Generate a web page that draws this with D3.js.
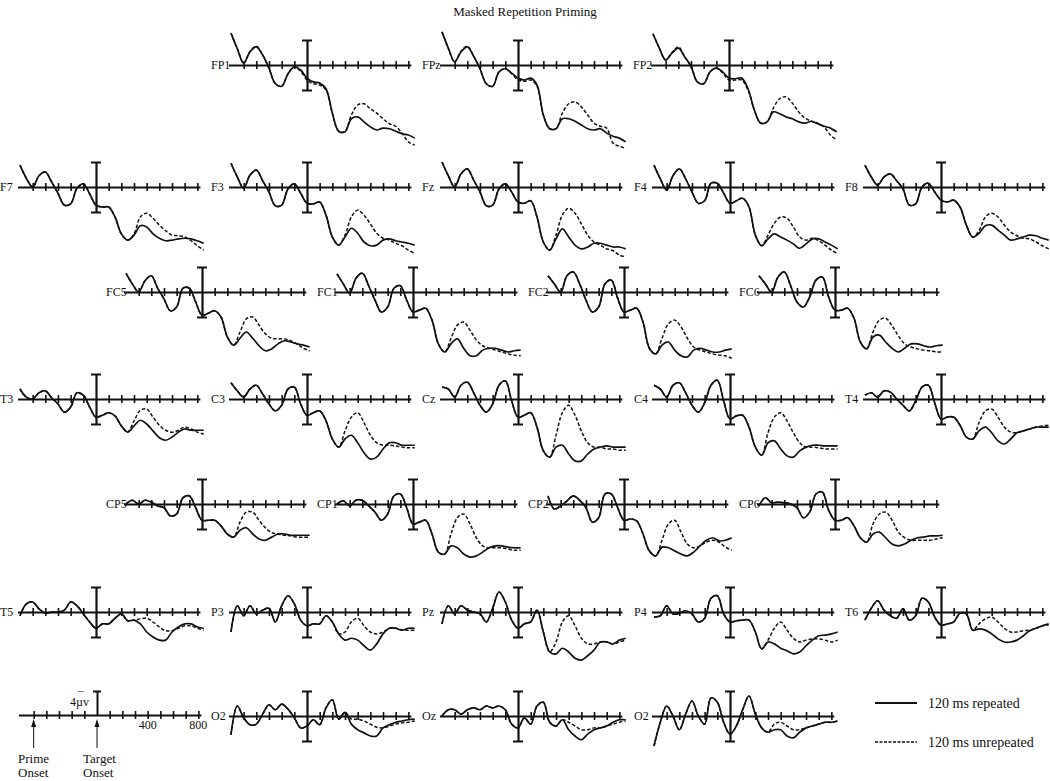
<!DOCTYPE html>
<html><head><meta charset="utf-8">
<script src="https://cdn.jsdelivr.net/npm/d3@7"></script>
<style>
body{margin:0;background:#fff;}
svg{display:block;}
text{font-family:"Liberation Serif","Times New Roman",serif;fill:#111;}
</style>
</head><body>
<svg id="chart" width="1050" height="781"></svg>
<script>
// ---------------- data ----------------
const chartTitle = "Masked Repetition Priming";
const times = [-600,-550,-500,-450,-400,-350,-300,-250,-200,-150,-100,-50,0,50,100,150,200,250,300,350,400,450,500,550,600,650,700,750,800,850];
const tickTimes = [-500,-400,-300,-200,-100,100,200,300,400,500,600,700,800];
const scaleTickLabels = [400, 800];
const calibUV = 4;
const seriesNames = ["120 ms repeated", "120 ms unrepeated"];
const electrodeLabels = ["FP1","FPz","FP2","F7","F3","Fz","F4","F8","FC5","FC1","FC2","FC6","T3","C3","Cz","C4","T4","CP5","CP1","CP2","CP6","T5","P3","Pz","P4","T6","O2","Oz","O2"];

// amplitudes in microvolts (negative plotted up)
const FP1_rep = [-5.1,-2.6,-0.3,-2.1,-2.9,-1.6,0.5,3.0,3.4,1.4,0.3,0.8,2.1,2.7,2.9,3.8,7.7,10.6,10.7,8.6,8.3,9.1,9.9,10.4,10.1,10.2,10.6,11.0,11.2,11.7];
const FP1_unrep = [-5.1,-2.6,-0.3,-2.2,-3.0,-1.6,0.5,3.0,3.4,1.4,0.3,1.0,2.4,3.0,3.2,4.0,7.7,10.6,10.6,8.0,6.4,6.2,7.0,7.7,8.6,9.4,9.8,10.9,12.3,12.8];
const FPz_rep = [-5.3,-2.7,-0.5,-2.1,-2.9,-1.4,0.6,3.0,3.4,1.1,0.6,1.3,2.1,2.4,2.1,3.2,8.0,10.2,10.2,8.6,8.6,9.0,9.6,10.2,10.4,10.2,10.9,11.4,11.7,12.3];
const FPz_unrep = [-5.3,-2.7,-0.5,-2.2,-3.0,-1.4,0.6,3.0,3.4,1.1,0.6,1.4,2.4,2.6,2.4,3.4,8.0,10.2,10.2,7.7,6.2,5.9,6.7,8.0,9.3,9.8,10.1,12.5,13.0,13.3];
const FP2_rep = [-5.0,-2.7,-0.8,-1.9,-2.7,-1.3,0.2,2.7,3.0,1.1,0.5,1.1,2.1,2.2,2.1,3.8,7.2,9.3,9.1,7.5,7.8,8.3,8.6,9.1,9.3,9.0,9.4,9.8,10.1,10.7];
const FP2_unrep = [-5.0,-2.7,-0.8,-2.0,-2.9,-1.3,0.2,2.7,3.0,1.1,0.5,1.3,2.4,2.4,2.4,4.0,7.2,9.3,9.1,6.9,5.4,5.1,6.1,7.5,8.5,9.0,9.3,9.9,11.2,12.0];
const F7_rep = [-3.5,-1.4,0,-1.8,-2.4,-0.8,1.0,2.9,2.7,0.2,-0.5,1.1,2.9,3.2,3.2,4.8,7.5,8.5,7.7,6.2,6.4,7.5,8.2,8.6,8.5,8.3,8.2,8.3,8.6,9.0];
const F7_unrep = [-3.5,-1.4,0,-1.8,-2.4,-0.8,1.0,2.9,2.7,0.2,-0.5,1.1,2.9,3.2,3.2,4.8,7.5,8.5,7.5,4.8,4.2,5.0,6.1,7.0,7.7,7.8,8.0,8.6,9.4,10.1];
const F3_rep = [-3.8,-1.6,0.2,-1.9,-2.7,-1.0,0.8,3.0,2.9,0.3,-0.5,1.0,2.6,2.7,2.4,4.5,8.0,9.3,8.0,6.6,7.4,8.8,9.4,9.3,8.5,8.3,8.6,8.8,9.0,9.3];
const F3_unrep = [-3.8,-1.6,0.2,-1.9,-2.7,-1.0,0.8,3.0,2.9,0.3,-0.5,1.0,2.6,2.7,2.4,4.5,8.0,9.3,7.7,4.8,3.7,4.5,5.9,7.4,8.2,8.5,9.0,9.4,10.1,10.6];
const Fz_rep = [-4.0,-1.8,0,-2.1,-2.9,-1.1,0.8,3.0,2.9,0.3,-0.5,0.8,2.4,2.6,2.2,4.8,8.8,10.1,8.3,6.7,8.0,9.3,9.9,9.6,9.0,9.0,9.3,9.6,9.6,9.9];
const Fz_unrep = [-4.0,-1.8,0,-2.1,-2.9,-1.1,0.8,3.0,2.9,0.3,-0.5,0.8,2.4,2.6,2.2,4.8,8.8,10.1,7.7,4.5,3.4,4.2,5.9,7.7,8.8,9.3,9.9,10.2,10.9,11.2];
const F4_rep = [-3.5,-1.3,0.5,-1.8,-2.9,-1.3,0.8,2.6,2.2,-0.6,-0.6,1.0,2.6,2.2,1.8,3.2,7.7,9.4,8.3,7.5,8.0,8.5,9.1,9.8,9.1,8.3,8.3,8.8,9.3,9.9];
const F4_unrep = [-3.5,-1.3,0.5,-1.8,-2.9,-1.3,0.8,2.6,2.2,-0.6,-0.6,1.0,2.6,2.2,1.8,3.2,7.7,9.4,7.7,5.8,4.8,5.0,6.4,8.0,8.5,8.2,8.6,9.3,10.1,10.7];
const F8_rep = [-3.5,-1.6,-0.3,-1.6,-2.1,-1.0,0.3,2.9,2.7,0,-0.6,0.8,2.1,2.4,2.1,3.2,6.1,8.0,7.4,6.2,6.1,6.9,7.7,8.5,8.3,8.0,7.7,7.8,8.2,8.5];
const F8_unrep = [-3.5,-1.6,-0.3,-1.6,-2.1,-1.0,0.3,2.9,2.7,0,-0.6,0.8,2.1,2.4,2.1,3.2,6.1,8.0,7.0,4.8,4.2,4.8,6.1,7.2,7.8,8.2,8.3,8.8,9.4,9.9];
const FC5_rep = [-3.0,-1.3,0,-1.8,-2.6,-0.6,1.1,3.0,2.4,-0.6,-0.6,1.6,3.7,3.4,3.0,4.0,7.2,8.5,7.4,6.4,7.4,8.6,9.4,9.1,8.3,7.8,8.0,8.3,8.5,8.8];
const FC5_unrep = [-3.0,-1.3,0,-1.8,-2.6,-0.6,1.1,3.0,2.4,-0.6,-0.6,1.6,3.7,3.4,3.0,4.0,7.2,8.5,6.4,4.3,4.0,5.3,6.7,7.4,7.5,7.5,7.8,8.3,9.0,9.4];
const FC1_rep = [-2.9,-1.3,0.2,-2.2,-3.0,-1.0,1.3,3.2,2.4,-0.6,-1.0,1.3,3.2,2.9,2.6,4.5,8.3,9.6,8.3,7.5,9.0,10.2,10.2,9.3,9.0,9.0,9.3,9.6,9.4,9.3];
const FC1_unrep = [-2.9,-1.3,0.2,-2.2,-3.0,-1.0,1.3,3.2,2.4,-0.6,-1.0,1.3,3.2,2.9,2.6,4.5,8.3,9.6,7.4,5.3,4.8,6.1,7.7,8.6,9.0,9.3,9.6,9.9,10.1,10.2];
const FC2_rep = [-2.6,-1.3,0,-2.6,-3.2,-1.3,1.3,3.2,2.4,-1.3,-1.9,1.0,3.2,2.9,2.6,4.8,9.0,9.9,8.5,8.0,9.3,10.2,10.4,9.3,9.0,9.3,9.6,9.6,9.3,9.1];
const FC2_unrep = [-2.6,-1.3,0,-2.6,-3.2,-1.3,1.3,3.2,2.4,-1.3,-1.9,1.0,3.2,2.9,2.6,4.8,9.0,9.9,7.4,5.1,4.5,5.6,7.4,8.8,9.3,9.6,9.9,10.1,10.2,10.6];
const FC6_rep = [-2.6,-1.3,0,-2.4,-3.2,-1.0,1.6,2.4,0.8,-1.9,-2.4,0.8,2.9,2.9,2.6,4.2,8.0,9.1,7.2,6.9,8.0,9.0,9.6,9.0,8.3,8.3,8.6,8.8,8.6,8.5];
const FC6_unrep = [-2.6,-1.3,0,-2.4,-3.2,-1.0,1.6,2.4,0.8,-1.9,-2.4,0.8,2.9,2.9,2.6,4.2,8.0,9.1,6.4,4.5,4.2,5.4,7.0,8.3,8.8,9.1,9.3,9.4,9.6,9.6];
const T3_rep = [-1.6,-0.3,0,-1.0,-1.3,-0.2,0.8,2.1,1.3,-1.0,-0.6,1.3,2.9,2.6,2.2,2.7,4.3,5.3,4.3,3.4,4.0,5.1,6.2,6.6,6.1,5.3,4.8,5.0,5.0,5.0];
const T3_unrep = [-1.6,-0.3,0,-1.0,-1.3,-0.2,0.8,2.1,1.3,-1.0,-0.6,1.3,2.9,2.6,2.2,2.7,4.3,5.3,3.5,1.8,1.6,2.9,4.2,5.0,5.3,5.0,4.5,4.8,5.3,5.6];
const C3_rep = [-2.6,-1.3,-0.3,-1.6,-2.2,-0.8,0.8,1.9,1.0,-1.6,-1.9,0.8,2.6,2.2,1.9,3.5,6.4,7.7,6.4,5.8,7.0,8.6,9.6,9.3,8.0,7.0,7.0,7.4,7.4,7.4];
const C3_unrep = [-2.6,-1.3,-0.3,-1.6,-2.2,-0.8,0.8,1.9,1.0,-1.6,-1.9,0.8,2.6,2.2,1.9,3.5,6.4,7.7,5.1,2.9,2.2,3.8,5.8,7.0,7.4,7.4,7.5,7.7,7.8,7.8];
const Cz_rep = [-1.9,-1.6,-0.3,-2.2,-2.7,-1.0,1.0,2.1,0.8,-2.2,-2.9,0.3,2.9,2.6,2.2,4.5,8.3,9.3,7.7,7.4,8.8,9.9,9.9,8.8,8.0,7.7,7.5,7.7,7.7,7.7];
const Cz_unrep = [-1.9,-1.6,-0.3,-2.2,-2.7,-1.0,1.0,2.1,0.8,-2.2,-2.9,0.3,2.9,2.6,2.2,4.5,8.3,9.3,5.8,2.2,1.0,2.6,5.1,7.0,7.7,7.7,8.0,8.0,8.2,8.2];
const C4_rep = [-2.2,-1.6,-0.3,-2.2,-2.6,-1.0,1.0,2.1,0.6,-2.2,-3.0,0.3,3.2,2.7,2.6,4.5,7.7,9.0,7.0,6.7,8.0,9.1,9.3,8.3,7.7,7.4,7.4,7.5,7.5,7.5];
const C4_unrep = [-2.2,-1.6,-0.3,-2.2,-2.6,-1.0,1.0,2.1,0.6,-2.2,-3.0,0.3,3.2,2.7,2.6,4.5,7.7,9.0,5.4,2.9,2.2,3.5,5.4,7.0,7.7,7.7,7.8,8.0,8.0,8.0];
const T4_rep = [-0.6,-1.0,-0.3,-1.3,-1.1,0,1.0,1.9,0.3,-1.9,-2.2,0.6,3.2,2.9,2.9,4.2,6.1,6.4,5.1,4.5,5.4,6.7,7.2,6.4,5.4,5.1,4.8,4.5,4.5,4.5];
const T4_unrep = [-0.6,-1.0,-0.3,-1.3,-1.1,0,1.0,1.9,0.3,-1.9,-2.2,0.6,3.2,2.9,2.9,4.2,6.1,6.4,3.8,1.9,1.6,2.9,4.5,5.3,5.4,5.1,4.8,4.5,4.3,4.2];
const CP5_rep = [0,-0.6,0,-0.6,-0.3,0.3,0.6,1.9,1.6,-1.0,-1.3,0.6,2.6,2.6,2.6,3.5,4.8,5.3,4.2,3.8,4.8,5.6,5.8,5.3,4.8,4.8,5.0,5.0,5.0,5.0];
const CP5_unrep = [0,-0.6,0,-0.6,-0.3,0.3,0.6,1.9,1.6,-1.0,-1.3,0.6,2.6,2.6,2.6,3.5,4.8,5.3,2.9,1.3,1.3,2.6,3.8,4.6,4.8,5.0,5.1,5.3,5.3,5.3];
const CP1_rep = [0,-0.5,0.3,-0.6,-0.6,0.3,1.3,2.6,1.6,-1.3,-1.6,0.6,3.2,2.9,2.6,4.8,7.7,8.0,6.7,7.0,8.0,8.5,8.3,7.7,7.0,6.7,6.7,6.9,7.0,7.0];
const CP1_unrep = [0,-0.5,0.3,-0.6,-0.6,0.3,1.3,2.6,1.6,-1.3,-1.6,0.6,3.2,2.9,2.6,4.8,7.7,8.0,4.8,2.2,1.6,3.2,5.4,6.7,7.0,7.0,7.0,7.2,7.4,7.4];
const CP2_rep = [-1.3,0.8,0.3,-0.5,-1.3,-0.6,0.6,2.9,2.2,-1.6,-1.6,0.6,2.6,2.4,2.7,4.8,7.5,8.3,6.9,7.0,7.5,8.0,8.3,7.7,6.7,5.8,5.4,5.9,5.8,5.4];
const CP2_unrep = [-1.3,0.8,0.3,-0.5,-1.3,-0.6,0.6,2.9,2.2,-1.6,-1.6,0.6,2.6,2.4,2.7,4.8,7.5,8.3,5.8,3.2,2.6,4.5,6.4,7.0,6.7,6.1,5.8,6.1,6.9,7.4];
const CP6_rep = [0.3,-1.0,-0.2,-0.3,-0.2,0,0.6,2.2,1.3,-1.6,-1.9,1.0,2.6,2.6,2.2,3.5,5.4,6.1,4.8,4.5,5.4,6.4,6.7,6.4,5.8,5.4,5.3,5.1,5.1,5.0];
const CP6_unrep = [0.3,-1.0,-0.2,-0.3,-0.2,0,0.6,2.2,1.3,-1.6,-1.9,1.0,2.6,2.6,2.2,3.5,5.4,6.1,3.2,1.6,1.3,2.6,4.5,5.4,5.8,5.8,5.8,5.8,5.6,5.4];
const T5_rep = [0.6,-1.3,-1.6,-0.5,0.2,0,0,-0.3,-1.6,-1.0,0.3,1.6,2.6,1.9,1.9,1.0,0.3,1.4,1.3,1.9,3.2,4.0,4.5,4.5,3.2,2.4,1.9,1.9,2.4,2.6];
const T5_unrep = [0.6,-1.3,-1.6,-0.5,0.2,0,0,-0.3,-1.6,-1.0,0.3,1.6,2.6,1.9,1.9,1.0,0.3,1.4,1.3,1.1,1.0,1.6,2.4,3.0,3.0,2.6,2.2,2.2,2.6,2.9];
const P3_rep = [3.2,-1.0,0.6,-1.0,0.3,-0.3,-0.6,1.6,-1.0,-2.6,-1.3,1.3,2.2,1.9,1.9,0.6,1.6,3.5,4.5,4.2,4.5,5.4,6.1,5.1,3.5,2.6,2.6,2.9,2.6,2.6];
const P3_unrep = [3.2,-1.0,0.6,-1.0,0.3,-0.3,-0.6,1.6,-1.0,-2.6,-1.3,1.3,2.2,1.9,1.9,0.6,1.6,3.5,3.2,1.6,1.0,2.2,3.2,3.5,3.2,2.6,2.6,2.9,2.9,2.9];
const Pz_rep = [1.9,-1.0,0.3,-1.0,-0.3,0,0.3,1.6,-0.6,-3.2,-1.6,1.3,2.6,1.9,1.6,-0.3,3.2,6.4,6.7,5.8,6.4,7.4,7.7,7.0,6.1,4.8,4.8,5.1,4.5,4.2];
const Pz_unrep = [1.9,-1.0,0.3,-1.0,-0.3,0,0.3,1.6,-0.6,-3.2,-1.6,1.3,2.6,1.9,1.6,-0.3,3.2,6.4,4.8,1.6,0.6,2.2,4.2,5.1,5.1,4.8,4.8,5.1,4.8,4.5];
const P4_rep = [0.8,0.6,-1.0,0.3,0.2,-0.2,0.3,1.6,1.0,-2.2,-2.6,0.3,1.6,1.4,1.3,1.3,3.2,5.9,4.8,5.1,5.8,6.2,6.7,6.4,5.4,4.5,3.8,3.7,3.5,3.2];
const P4_unrep = [0.8,0.6,-1.0,0.3,0.2,-0.2,0.3,1.6,1.0,-2.2,-2.6,0.3,1.6,1.4,1.3,1.3,3.2,5.9,4.5,2.6,1.6,2.9,4.2,4.8,4.5,4.3,4.3,4.5,4.8,4.5];
const T6_rep = [1.3,-0.6,-1.8,-0.3,0.6,1.0,-0.5,1.3,0.6,-2.2,-1.6,0.8,2.1,1.9,1.6,0.2,0.3,2.9,2.7,2.9,3.5,4.3,4.8,4.8,4.5,3.8,3.0,2.6,2.2,1.9];
const T6_unrep = [1.3,-0.6,-1.8,-0.3,0.6,1.0,-0.5,1.3,0.6,-2.2,-1.6,0.8,2.1,1.9,1.6,0.2,0.3,2.9,1.9,1.1,0.8,1.6,2.6,3.2,3.2,3.0,2.9,2.6,2.2,2.1];
const O2a_rep = [3.0,-1.6,0.3,1.4,1.3,-0.3,-1.8,-1.0,-1.9,-1.1,0.3,1.9,1.6,0.6,1.4,-1.3,-2.6,0.5,-0.6,1.3,2.2,2.7,3.2,3.2,1.9,1.4,1.0,0.8,0.6,0.5];
const O2a_unrep = [3.0,-1.6,0.3,1.4,1.3,-0.3,-1.8,-1.0,-1.9,-1.1,0.3,1.9,1.6,0.6,1.4,-1.3,-2.6,0.5,-0.6,0.5,0.5,0.8,1.3,1.8,1.9,1.6,1.3,1.1,1.0,0.8];
const Oz_rep = [0,-1.0,-1.0,-0.3,-1.0,-1.3,-1.0,-1.6,-1.3,-1.6,-1.0,1.3,1.9,0.3,1.3,-1.6,-2.2,1.0,1.6,0.6,2.2,3.2,3.8,2.9,2.2,1.9,1.6,1.0,0.6,0.6];
const Oz_unrep = [0,-1.0,-1.0,-0.3,-1.0,-1.3,-1.0,-1.6,-1.3,-1.6,-1.0,1.3,1.9,0.3,1.3,-1.6,-2.2,1.0,1.6,0.6,1.0,1.6,2.2,2.2,1.9,1.9,1.6,1.3,1.0,0.8];
const O2b_rep = [4.8,1.0,-1.6,0,2.2,-0.3,-2.4,0,1.3,-2.9,-2.2,1.0,2.9,1.6,-1.0,-3.2,-0.3,1.9,2.6,2.2,2.2,3.2,3.5,2.6,1.9,1.6,1.3,1.0,1.0,0.8];
const O2b_unrep = [4.8,1.0,-1.6,0,2.2,-0.3,-2.4,0,1.3,-2.9,-2.2,1.0,2.9,1.6,-1.0,-3.2,-0.3,1.9,2.6,1.3,1.0,1.6,2.2,2.2,1.9,1.6,1.3,1.0,1.0,0.8];

const repeated = [FP1_rep,FPz_rep,FP2_rep,F7_rep,F3_rep,Fz_rep,F4_rep,F8_rep,FC5_rep,FC1_rep,FC2_rep,FC6_rep,T3_rep,C3_rep,Cz_rep,C4_rep,T4_rep,CP5_rep,CP1_rep,CP2_rep,CP6_rep,T5_rep,P3_rep,Pz_rep,P4_rep,T6_rep,O2a_rep,Oz_rep,O2b_rep];
const unrepeated = [FP1_unrep,FPz_unrep,FP2_unrep,F7_unrep,F3_unrep,Fz_unrep,F4_unrep,F8_unrep,FC5_unrep,FC1_unrep,FC2_unrep,FC6_unrep,T3_unrep,C3_unrep,Cz_unrep,C4_unrep,T4_unrep,CP5_unrep,CP1_unrep,CP2_unrep,CP6_unrep,T5_unrep,P3_unrep,Pz_unrep,P4_unrep,T6_unrep,O2a_unrep,Oz_unrep,O2b_unrep];

// ---------------- layout (panel origin = target onset on baseline) ----------------
const colFull = [96, 307, 518, 730, 941];
const colHalf = [202, 413, 624, 835];
const rowY = [65, 187, 292, 399, 504, 612, 716];
const panelPos = [
  [colFull[1],rowY[0]],[colFull[2],rowY[0]],[729,rowY[0]],
  [colFull[0],rowY[1]],[colFull[1],rowY[1]],[colFull[2],rowY[1]],[colFull[3],rowY[1]],[colFull[4],rowY[1]],
  [colHalf[0],rowY[2]],[colHalf[1],rowY[2]],[colHalf[2],rowY[2]],[colHalf[3],rowY[2]],
  [colFull[0],rowY[3]],[colFull[1],rowY[3]],[colFull[2],rowY[3]],[colFull[3],rowY[3]],[colFull[4],rowY[3]],
  [colHalf[0],rowY[4]],[colHalf[1],rowY[4]],[colHalf[2],rowY[4]],[colHalf[3],rowY[4]],
  [colFull[0],rowY[5]],[colFull[1],rowY[5]],[colFull[2],rowY[5]],[colFull[3],rowY[5]],[colFull[4],rowY[5]],
  [colFull[1],rowY[6]],[colFull[2],rowY[6]],[colFull[3],rowY[6]]
];
const pxPerMs = 0.1267;
const halfBar = 25;
const axisDomain = [-620, 820];

const svg = d3.select("#chart");

svg.append("text").attr("x", 525).attr("y", 16).attr("text-anchor","middle")
  .attr("font-size", 13).text(chartTitle);

function makeX(cx){
  return d3.scaleLinear().domain(axisDomain).range([cx + axisDomain[0]*pxPerMs, cx + axisDomain[1]*pxPerMs]);
}

function drawBaseline(g, x, cy){
  const ax = d3.axisBottom(x).tickValues(tickTimes).tickFormat("").tickSizeOuter(0).tickSizeInner(4);
  const ag = g.append("g").attr("transform", `translate(0,${cy})`).call(ax);
  ag.select(".domain").attr("stroke","#111").attr("stroke-width",2);
  ag.selectAll(".tick line").attr("y1",-4).attr("y2",4).attr("stroke","#111").attr("stroke-width",1.6);
  return ag;
}

electrodeLabels.forEach((lab, i) => {
  const [cx, cy] = panelPos[i];
  const x = makeX(cx);
  const y = d3.scaleLinear().domain([-calibUV, calibUV]).range([cy - halfBar, cy + halfBar]);
  const g = svg.append("g");

  drawBaseline(g, x, cy);

  // calibration bar at target onset
  const vb = d3.axisLeft(y).tickValues([-calibUV, calibUV]).tickFormat("").tickSizeOuter(0).tickSizeInner(5);
  const vg = g.append("g").attr("transform", `translate(${x(0)},0)`).call(vb);
  vg.select(".domain").attr("stroke","#111").attr("stroke-width",2.2);
  vg.selectAll(".tick line").attr("x1",-5).attr("x2",5).attr("stroke","#111").attr("stroke-width",2);

  g.append("text").attr("x", cx - 96).attr("y", cy + 4).attr("font-size", 12).text(lab);

  const line = d3.line().x((d, k) => x(times[k])).y(d => y(d)).curve(d3.curveCatmullRom.alpha(0.5));
  g.append("path").datum(unrepeated[i]).attr("d", line).attr("fill","none")
    .attr("stroke","#111").attr("stroke-width",1.5).attr("stroke-dasharray","3.5,2");
  g.append("path").datum(repeated[i]).attr("d", line).attr("fill","none")
    .attr("stroke","#111").attr("stroke-width",1.7);
});

// ---------------- scale / time reference panel ----------------
(function(){
  const cx = 97, cy = 715;
  const x = makeX(cx);
  const yL = d3.scaleLinear().domain([-calibUV, 0]).range([cy - 24, cy]);
  const g = svg.append("g");
  drawBaseline(g, x, cy);
  const vb = d3.axisLeft(yL).tickValues([-calibUV]).tickFormat("").tickSizeOuter(0).tickSizeInner(4);
  const vg = g.append("g").attr("transform", `translate(${x(0)},0)`).call(vb);
  vg.select(".domain").attr("stroke","#111").attr("stroke-width",2);
  vg.selectAll(".tick line").attr("x1",-4).attr("x2",4).attr("stroke","#111").attr("stroke-width",2);

  g.append("text").attr("x", 70).attr("y", 706).attr("font-size", 12).text(calibUV + "µv");
  g.append("text").attr("x", 78).attr("y", 694).attr("font-size", 11).text("–");

  g.selectAll(".msl").data(scaleTickLabels).enter().append("text")
    .attr("x", d => x(d)).attr("y", cy + 14).attr("text-anchor","middle").attr("font-size", 12).text(d => d);

  [-500, 0].forEach(t => {
    g.append("line").attr("x1", x(t)).attr("x2", x(t)).attr("y1", 748).attr("y2", 722)
      .attr("stroke","#111").attr("stroke-width",1);
    g.append("path").attr("d", `M${x(t)-2.5},${727} L${x(t)},${719} L${x(t)+2.5},${727} Z`).attr("fill","#111");
  });
  g.append("text").attr("x", 18).attr("y", 763).attr("font-size", 13).text("Prime");
  g.append("text").attr("x", 18).attr("y", 777).attr("font-size", 13).text("Onset");
  g.append("text").attr("x", 83).attr("y", 763).attr("font-size", 13).text("Target");
  g.append("text").attr("x", 83).attr("y", 777).attr("font-size", 13).text("Onset");
})();

// ---------------- legend ----------------
const legendY = [703, 742];
seriesNames.forEach((name, i) => {
  svg.append("line").attr("x1", 875).attr("x2", 917).attr("y1", legendY[i]).attr("y2", legendY[i])
    .attr("stroke","#111").attr("stroke-width", i === 0 ? 1.8 : 1.3)
    .attr("stroke-dasharray", i === 0 ? null : "3,1.5");
  svg.append("text").attr("x", 928).attr("y", legendY[i] + 5).attr("font-size", 14).text(name);
});
</script>
</body></html>
